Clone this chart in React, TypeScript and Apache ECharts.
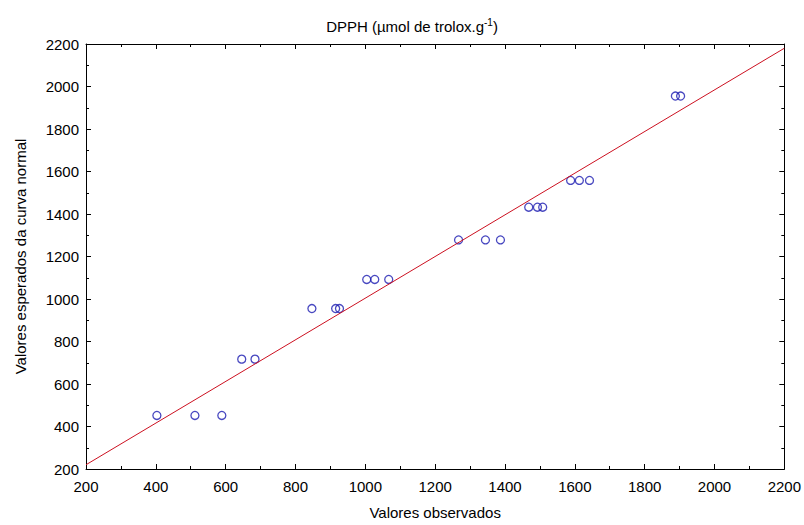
import React, { useEffect, useRef } from "react";
import * as echarts from "echarts";

const observed = [403, 512, 589, 646, 684, 847, 915, 926, 1004, 1027, 1067, 1267, 1344, 1387, 1468, 1493, 1508, 1588, 1613, 1642, 1888, 1903];
const expected = [452, 452, 452, 717, 717, 955, 955, 955, 1092, 1092, 1092, 1278, 1278, 1278, 1432, 1432, 1432, 1558, 1558, 1558, 1955, 1955];
const lineX = [200, 2200];
const lineY = [220, 2180];
const axisMin = 200;
const axisMax = 2200;
const axisStep = 200;

export default function App() {
  const ref = useRef<HTMLDivElement>(null);
  useEffect(() => {
    const chart = echarts.init(ref.current!, null, { renderer: "svg" });
    const font = "Liberation Sans, Arial, sans-serif";
    const baseAxis = {
      min: axisMin,
      max: axisMax,
      interval: axisStep,
      axisLine: { show: true, lineStyle: { color: "#000", width: 1 } },
      axisTick: { show: true, inside: true, length: 5, lineStyle: { color: "#000" } },
      minorTick: { show: true, splitNumber: 2, length: 3, lineStyle: { color: "#000" } },
      splitLine: { show: false },
    };
    const fmt = (v: number) => String(v);
    chart.setOption({
      animation: false,
      backgroundColor: "#fff",
      title: {
        text: "DPPH (µmol de trolox.g{sup|-1})",
        left: 407,
        textAlign: "center",
        top: 12,
        textStyle: {
          fontFamily: font,
          fontSize: 15,
          fontWeight: "normal",
          color: "#000",
          rich: { sup: { fontSize: 10, verticalAlign: "top", padding: [0, 0, 9, 0], fontFamily: font, color: "#000" } },
        },
      },
      grid: { left: 86, right: 19, top: 44, bottom: 54, containLabel: false },
      xAxis: [
        {
          ...baseAxis,
          type: "value",
          position: "bottom",
          name: "Valores observados",
          nameLocation: "middle",
          nameGap: 36,
          nameTextStyle: { fontFamily: font, fontSize: 15, color: "#000" },
          axisLabel: { fontFamily: font, fontSize: 15, color: "#000", margin: 10, formatter: fmt },
        },
        {
          ...baseAxis,
          type: "value",
          position: "top",
          axisLabel: { show: false },
        },
      ],
      yAxis: [
        {
          ...baseAxis,
          type: "value",
          position: "left",
          name: "Valores esperados da curva normal",
          nameLocation: "middle",
          nameGap: 58,
          nameTextStyle: { fontFamily: font, fontSize: 15, color: "#000" },
          axisLabel: { fontFamily: font, fontSize: 15, color: "#000", margin: 7, formatter: fmt },
        },
        {
          ...baseAxis,
          type: "value",
          position: "right",
          axisLabel: { show: false },
        },
      ],
      series: [
        {
          type: "line",
          data: lineX.map((x, i) => [x, lineY[i]]),
          symbol: "none",
          lineStyle: { color: "#CC1020", width: 1 },
          silent: true,
        },
        {
          type: "scatter",
          data: observed.map((x, i) => [x, expected[i]]),
          symbol: "circle",
          symbolSize: 8,
          itemStyle: { color: "rgba(0,0,0,0)", borderColor: "#1a1aB0", borderWidth: 1.3 },
        },
      ],
    });
    return () => chart.dispose();
  }, []);
  return <div ref={ref} style={{ width: 804, height: 525, position: "absolute", left: 0, top: 0 }} />;
}
